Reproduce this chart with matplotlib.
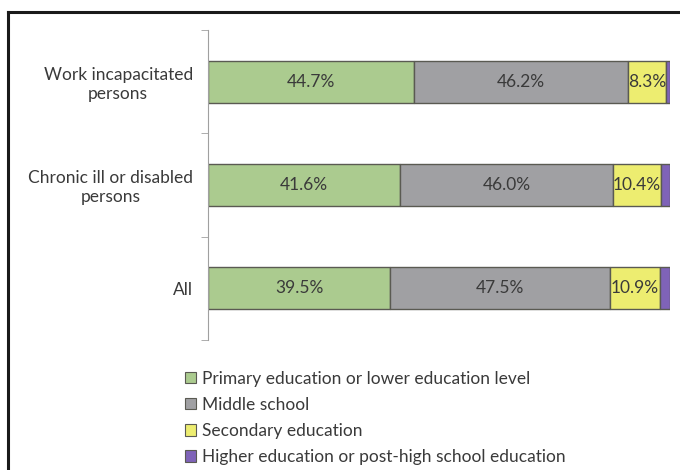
import matplotlib
matplotlib.use("Agg")
import matplotlib.pyplot as plt
from matplotlib.lines import Line2D
from matplotlib.patches import Patch

plt.rcParams['font.family'] = ['Lato', 'DejaVu Sans']

groups = ["Work incapacitated\npersons", "Chronic ill or disabled\npersons", "All"]
levels = ["Primary education or lower education level", "Middle school",
          "Secondary education", "Higher education or post-high school education"]
primary = [44.7, 41.6, 39.5]
middle = [46.2, 46.0, 47.5]
secondary = [8.3, 10.4, 10.9]
higher = [0.8, 2.0, 2.1]
colors = ["#abcb8f", "#a0a0a3", "#eded70", "#7f63b8"]

fig = plt.figure(figsize=(6.8, 4.7), dpi=100)
ax = fig.add_axes([0.306, 0.277, 0.679, 0.659])

ypos = [2, 1, 0]
left = [0, 0, 0]
series = [primary, middle, secondary, higher]
for i, vals in enumerate(series):
    ax.barh(ypos, vals, left=left, height=0.41, color=colors[i],
            edgecolor="#5a5a52", linewidth=1.0)
    if i < 3:
        for y, l, v in zip(ypos, left, vals):
            ax.text(l + v / 2, y, f"{v:.1f}%", ha="center", va="center",
                    fontsize=12.5, color="#3a3a3a")
    left = [a + b for a, b in zip(left, vals)]

ax.set_xlim(0, 100)
ax.set_ylim(-0.5, 2.5)
ax.set_yticks(ypos)
ax.set_yticklabels(groups, fontsize=12.5, color="#3a3a3a", ha="right",
                   multialignment="center")
ax.tick_params(axis="y", length=0, pad=11)
ax.set_yticks([-0.5, 0.5, 1.5, 2.5], minor=True)
ax.tick_params(axis="y", which="minor", length=5, color="#a0a0a0")
ax.set_xticks([])
for s in ["top", "right", "bottom"]:
    ax.spines[s].set_visible(False)
ax.spines["left"].set_color("#a0a0a0")

handles = [Patch(facecolor=c, edgecolor="#5a5a52", linewidth=0.8) for c in colors]
fig.legend(handles, levels, loc="upper left", bbox_to_anchor=(0.262, 0.226),
           frameon=False, fontsize=12.5, handlelength=0.65, handleheight=0.65,
           handletextpad=0.3, labelspacing=0.58, borderaxespad=0,
           labelcolor="#3a3a3a")

# frame of the original picture (only top and left visible)
fig.add_artist(Line2D([0.0115, 0.0115], [0, 0.975], color="#1a1a1a", linewidth=2.2,
                      transform=fig.transFigure))
fig.add_artist(Line2D([0.0115, 1], [0.975, 0.975], color="#1a1a1a", linewidth=2.2,
                      transform=fig.transFigure))

fig.savefig("out.png", dpi=100)
